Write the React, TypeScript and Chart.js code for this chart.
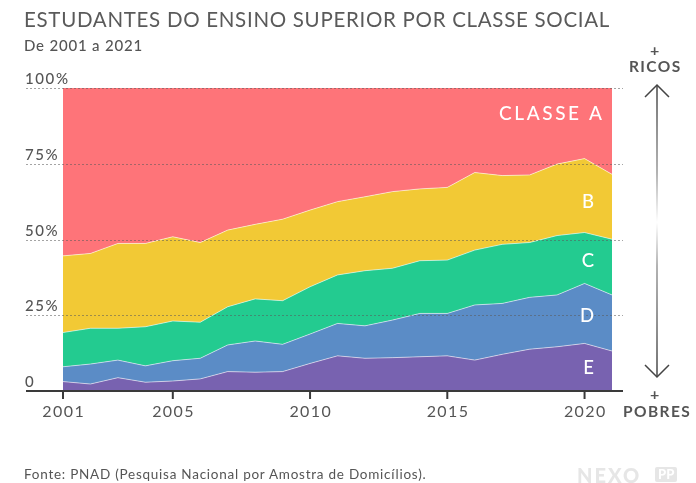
import React, { useEffect, useRef } from "react";
import { Chart, registerables } from "chart.js";

Chart.register(...registerables);

const years = [2001, 2002, 2003, 2004, 2005, 2006, 2007, 2008, 2009, 2010, 2011, 2012, 2013, 2014, 2015, 2016, 2017, 2018, 2019, 2020, 2021];
const classeE = [3.1, 2.3, 4.4, 2.9, 3.3, 4.0, 6.4, 6.2, 6.4, 9.1, 11.6, 10.8, 11.0, 11.3, 11.6, 10.2, 12.1, 13.8, 14.6, 15.7, 13.2];
const classeD = [4.9, 6.6, 5.8, 5.4, 6.7, 6.8, 8.8, 10.3, 9.0, 9.7, 10.7, 10.7, 12.4, 14.3, 14.0, 18.2, 16.8, 17.1, 17.1, 19.8, 18.5];
const classeC = [11.3, 11.8, 10.5, 12.9, 13.1, 11.9, 12.6, 13.9, 14.4, 15.6, 16.0, 18.2, 17.1, 17.4, 17.6, 18.1, 19.5, 18.1, 19.6, 16.8, 18.4];
const classeB = [25.3, 24.7, 28.0, 27.5, 27.8, 26.3, 25.3, 24.6, 26.9, 25.3, 24.2, 24.4, 25.3, 23.7, 24.0, 25.6, 22.7, 22.3, 23.6, 24.4, 21.4];
const classeA = [55.4, 54.6, 51.3, 51.3, 49.1, 51.0, 46.9, 45.0, 43.3, 40.3, 37.5, 35.9, 34.2, 33.3, 32.8, 27.9, 28.9, 28.7, 25.1, 23.3, 28.5];

const yTicks = [0, 25, 50, 75, 100];
const yTickLabels = ["0", "25%", "50%", "75%", "100%"];
const xTickYears = [2001, 2005, 2010, 2015, 2020];
const seriesNames = ["E", "D", "C", "B", "CLASSE A"];
const labelValuesAt = [7.5, 24.8, 43, 62.5, 91.5];

const colors = {
  A: "#fe7479",
  B: "#f2c935",
  C: "#23cb90",
  D: "#5b8cc6",
  E: "#7862b0",
};

const FONT = "Lato, 'Open Sans', sans-serif";

const overlayPlugin = {
  id: "overlay",
  afterDatasetsDraw(chart: any) {
    const { ctx, scales } = chart;
    const xs = scales.x;
    const ys = scales.y;
    ctx.save();
    // dotted gridlines
    ctx.strokeStyle = "rgba(90,90,90,0.55)";
    ctx.lineWidth = 1;
    ctx.setLineDash([2, 2]);
    yTicks.forEach((v) => {
      if (v === 0) return;
      const y = Math.round(ys.getPixelForValue(v)) + 0.5;
      ctx.beginPath();
      ctx.moveTo(26, y);
      ctx.lineTo(623, y);
      ctx.stroke();
    });
    ctx.setLineDash([]);
    // y labels
    ctx.fillStyle = "#555";
    ctx.font = `500 15px ${FONT}`;
    ctx.letterSpacing = "1.6px";
    ctx.textAlign = "left";
    ctx.textBaseline = "alphabetic";
    yTicks.forEach((v, i) => {
      const y = ys.getPixelForValue(v);
      ctx.fillText(yTickLabels[i], 25, y - 4);
    });
    // x axis
    const y0 = ys.getPixelForValue(0);
    ctx.strokeStyle = "#3a3a3a";
    ctx.lineWidth = 2;
    ctx.beginPath();
    ctx.moveTo(26, y0);
    ctx.lineTo(623, y0);
    ctx.stroke();
    ctx.fillStyle = "#555";
    ctx.font = `400 16px ${FONT}`;
    ctx.letterSpacing = "1.4px";
    ctx.textAlign = "center";
    xTickYears.forEach((yr) => {
      const x = xs.getPixelForValue(years.indexOf(yr));
      ctx.beginPath();
      ctx.moveTo(x, y0);
      ctx.lineTo(x, y0 + 8);
      ctx.stroke();
      ctx.fillText(String(yr), x + 0.7, y0 + 26);
    });
    // series labels
    ctx.fillStyle = "#ffffff";
    ctx.textAlign = "right";
    ctx.textBaseline = "middle";
    seriesNames.forEach((name, i) => {
      if (i === 4) {
        ctx.font = `500 19px ${FONT}`;
        ctx.letterSpacing = "2.6px";
        ctx.fillText(name, 604.6, ys.getPixelForValue(labelValuesAt[i]));
      } else {
        ctx.font = `500 18.5px ${FONT}`;
        ctx.letterSpacing = "0px";
        ctx.fillText(name, 594, ys.getPixelForValue(labelValuesAt[i]));
      }
    });
    ctx.letterSpacing = "0px";
    // arrow
    const ax = 657;
    const top = ys.getPixelForValue(100) - 3;
    const bot = ys.getPixelForValue(0) - 14;
    const grad = ctx.createLinearGradient(0, top, 0, bot);
    grad.addColorStop(0, "#444");
    grad.addColorStop(0.3, "#999");
    grad.addColorStop(0.47, "#ffffff");
    grad.addColorStop(0.62, "#999");
    grad.addColorStop(1, "#444");
    ctx.strokeStyle = grad;
    ctx.lineWidth = 1.5;
    ctx.beginPath();
    ctx.moveTo(ax, top);
    ctx.lineTo(ax, bot);
    ctx.stroke();
    ctx.strokeStyle = "#444";
    ctx.beginPath();
    ctx.moveTo(ax - 12, top + 12);
    ctx.lineTo(ax, top);
    ctx.lineTo(ax + 12, top + 12);
    ctx.stroke();
    ctx.beginPath();
    ctx.moveTo(ax - 12, bot - 12);
    ctx.lineTo(ax, bot);
    ctx.lineTo(ax + 12, bot - 12);
    ctx.stroke();
    ctx.restore();
  },
};

function App() {
  const ref = useRef<HTMLCanvasElement | null>(null);
  useEffect(() => {
    if (!ref.current) return;
    const border = "rgba(255,255,255,0.55)";
    const mk = (label: string, data: number[], color: string, fill: any) => ({
      label,
      data,
      backgroundColor: color,
      borderColor: border,
      borderWidth: 1,
      fill,
      pointRadius: 0,
      tension: 0,
    });
    const chart = new Chart(ref.current, {
      type: "line",
      data: {
        labels: years.map(String),
        datasets: [
          mk("E", classeE, colors.E, "origin"),
          mk("D", classeD, colors.D, "-1"),
          mk("C", classeC, colors.C, "-1"),
          mk("B", classeB, colors.B, "-1"),
          { ...mk("A", classeA, colors.A, "-1"), borderWidth: 0 },
        ],
      },
      options: {
        animation: false,
        responsive: false,
        devicePixelRatio: 1,
        layout: { padding: { left: 63, right: 84, top: 88, bottom: 92 } },
        plugins: { legend: { display: false }, tooltip: { enabled: false } },
        scales: {
          x: { display: false, offset: false },
          y: { display: false, stacked: true, min: 0, max: 100 },
        },
      },
      plugins: [overlayPlugin],
    });
    return () => chart.destroy();
  }, []);

  const txt: React.CSSProperties = { position: "absolute", fontFamily: FONT, color: "#555", whiteSpace: "nowrap", margin: 0 };
  return (
    <div style={{ position: "absolute", left: 0, top: 0, width: 696, height: 483, background: "#fff", overflow: "hidden" }}>
      <canvas ref={ref} width={696} height={483} style={{ position: "absolute", left: 0, top: 0, display: "block" }} />
      <div style={{ ...txt, left: 24, top: 7, fontSize: 20.5, fontWeight: 400, letterSpacing: 0.7, color: "#5a5a5a" }}>
        ESTUDANTES DO ENSINO SUPERIOR POR CLASSE SOCIAL
      </div>
      <div style={{ ...txt, left: 24, top: 36, fontSize: 15, fontWeight: 500, letterSpacing: 0.8 }}>De 2001 a 2021</div>
      <div style={{ ...txt, left: 650, top: 40, fontSize: 16, fontWeight: 700 }}>+</div>
      <div style={{ ...txt, left: 629, top: 57, fontSize: 15.5, fontWeight: 700, letterSpacing: 1.4 }}>RICOS</div>
      <div style={{ ...txt, left: 650, top: 384, fontSize: 16, fontWeight: 700 }}>+</div>
      <div style={{ ...txt, left: 623, top: 402, fontSize: 15.5, fontWeight: 700, letterSpacing: 1.4 }}>POBRES</div>
      <div style={{ ...txt, left: 24, top: 466, fontSize: 13.5, letterSpacing: 0.75 }}>Fonte: PNAD (Pesquisa Nacional por Amostra de Domicílios).</div>
      <div style={{ ...txt, left: 577, top: 463, fontSize: 20, fontWeight: 900, color: "#e6e6e6", letterSpacing: 2 }}>NEXO</div>
      <div style={{ ...txt, left: 655, top: 467, fontSize: 13, fontWeight: 900, color: "#fff", background: "#e6e6e6", padding: "0 3px", lineHeight: "15px", borderRadius: 2 }}>PP</div>
    </div>
  );
}

export default App;
